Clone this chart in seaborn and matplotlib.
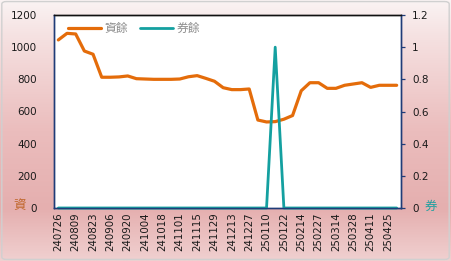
import numpy as np
import pandas as pd
import matplotlib
matplotlib.use("Agg")
import matplotlib.pyplot as plt
from matplotlib.colors import LinearSegmentedColormap
from matplotlib.patches import FancyBboxPatch
import seaborn as sns

dates = ['240726','240802','240809','240816','240823','240830','240906','240913','240920','240927',
         '241004','241011','241018','241025','241101','241108','241115','241122','241129','241206',
         '241213','241220','241227','250103','250110','250117','250122','250207','250214','250221',
         '250227','250307','250314','250321','250328','250403','250411','250418','250425','250502']
margin_bal = [1045, 1086, 1082, 976, 956, 813, 813, 815, 821, 804,
              802, 800, 800, 800, 802, 816, 823, 806, 788, 748,
              736, 736, 740, 547, 535, 537, 552, 575, 729, 779,
              779, 744, 744, 763, 771, 779, 750, 763, 763, 763]
short_bal = [0]*25 + [1] + [0]*14
left_ticks = [0, 200, 400, 600, 800, 1000, 1200]
right_ticks = [0, 0.2, 0.4, 0.6, 0.8, 1.0, 1.2]
right_labels = ['0', '0.2', '0.4', '0.6', '0.8', '1', '1.2']
series_names = ['資餘', '券餘']

sns.set_style("white")
plt.rcParams['font.family'] = ['Noto Sans CJK TC', 'DejaVu Sans']

ORANGE = '#E46C0A'
TEAL = '#14A0A0'
NAVY = '#1F3C78'

df = pd.DataFrame({'pos': np.arange(len(dates)), 'margin': margin_bal, 'short': short_bal})

fig = plt.figure(figsize=(4.51, 2.61), dpi=100)

# background gradient
bg = fig.add_axes([0, 0, 1, 1], zorder=-10)
cmap = LinearSegmentedColormap.from_list('bg', [(0.0, '#faf3f3'), (0.15, '#f5e0e0'), (0.5, '#ebbdbd'),
                                                (0.8, '#e5afaf'), (1.0, '#f0d0d0')])
grad = np.linspace(0, 1, 256).reshape(-1, 1)
bg.imshow(grad, aspect='auto', cmap=cmap, extent=[0, 1, 1, 0])
bg.set_xlim(0, 1); bg.set_ylim(1, 0)
bg.axis('off')
bg.add_patch(FancyBboxPatch((0.004, 0.006), 0.992, 0.988, boxstyle='round,pad=0,rounding_size=0.01',
                            fill=False, edgecolor='#d0d0d0', linewidth=1.0, transform=bg.transAxes))

ax = fig.add_axes([54/451, 1-208/261, (401-54)/451, (208-15)/261])
ax.set_facecolor('white')
sns.lineplot(data=df, x='pos', y='margin', ax=ax, color=ORANGE, linewidth=2.3, label=series_names[0], legend=False)
ax2 = ax.twinx()
sns.lineplot(data=df, x='pos', y='short', ax=ax2, color=TEAL, linewidth=2.0, label=series_names[1], legend=False)
for ln in ax2.get_lines():
    ln.set_clip_on(False)

ax.set_xlim(-0.5, len(dates) - 0.5)
ax.set_ylim(0, 1200)
ax2.set_ylim(0, 1.2)
ax.set_xticks(np.arange(0, len(dates), 2))
ax.set_xticklabels(dates[::2], rotation=90, fontsize=7.4, color='#1a1a1a', family=['DejaVu Sans'])
ax.set_yticks(left_ticks)
ax.set_yticklabels([str(t) for t in left_ticks], fontsize=7.5, color='#1a1a1a', family=['DejaVu Sans'])
ax2.set_yticks(right_ticks)
ax2.set_yticklabels(right_labels, fontsize=7.5, color='#1a1a1a', family=['DejaVu Sans'])
ax.set_xlabel(''); ax.set_ylabel(''); ax2.set_ylabel('')

ax.tick_params(axis='x', length=0, pad=3)
ax.tick_params(axis='y', length=0, pad=12)
ax2.tick_params(axis='y', length=3, width=0.9, color=NAVY, direction='out', pad=5)

for a in (ax, ax2):
    a.spines['left'].set_color(NAVY)
    a.spines['right'].set_color(NAVY)
    a.spines['bottom'].set_color(NAVY)
    a.spines['top'].set_color('#111111')
    for s in a.spines.values():
        s.set_linewidth(1.0)
        s.set_visible(True)

# axis captions
fig.text(20/451, 1-206/261, '資', color='#C0662B', fontsize=9, ha='center', va='center')
fig.text(431/451, 1-206/261, '券', color='#20A0A0', fontsize=9, ha='center', va='center')

h1, l1 = ax.get_legend_handles_labels()
h2, l2 = ax2.get_legend_handles_labels()
leg = ax2.legend(h1 + h2, l1 + l2, loc='upper left', bbox_to_anchor=(0.01, 1.02), ncol=2, frameon=False,
                 fontsize=8.5, handlelength=2.8, handletextpad=0.3, columnspacing=1.0, labelcolor='#8c8c8c')

fig.savefig('out.png', dpi=100)
